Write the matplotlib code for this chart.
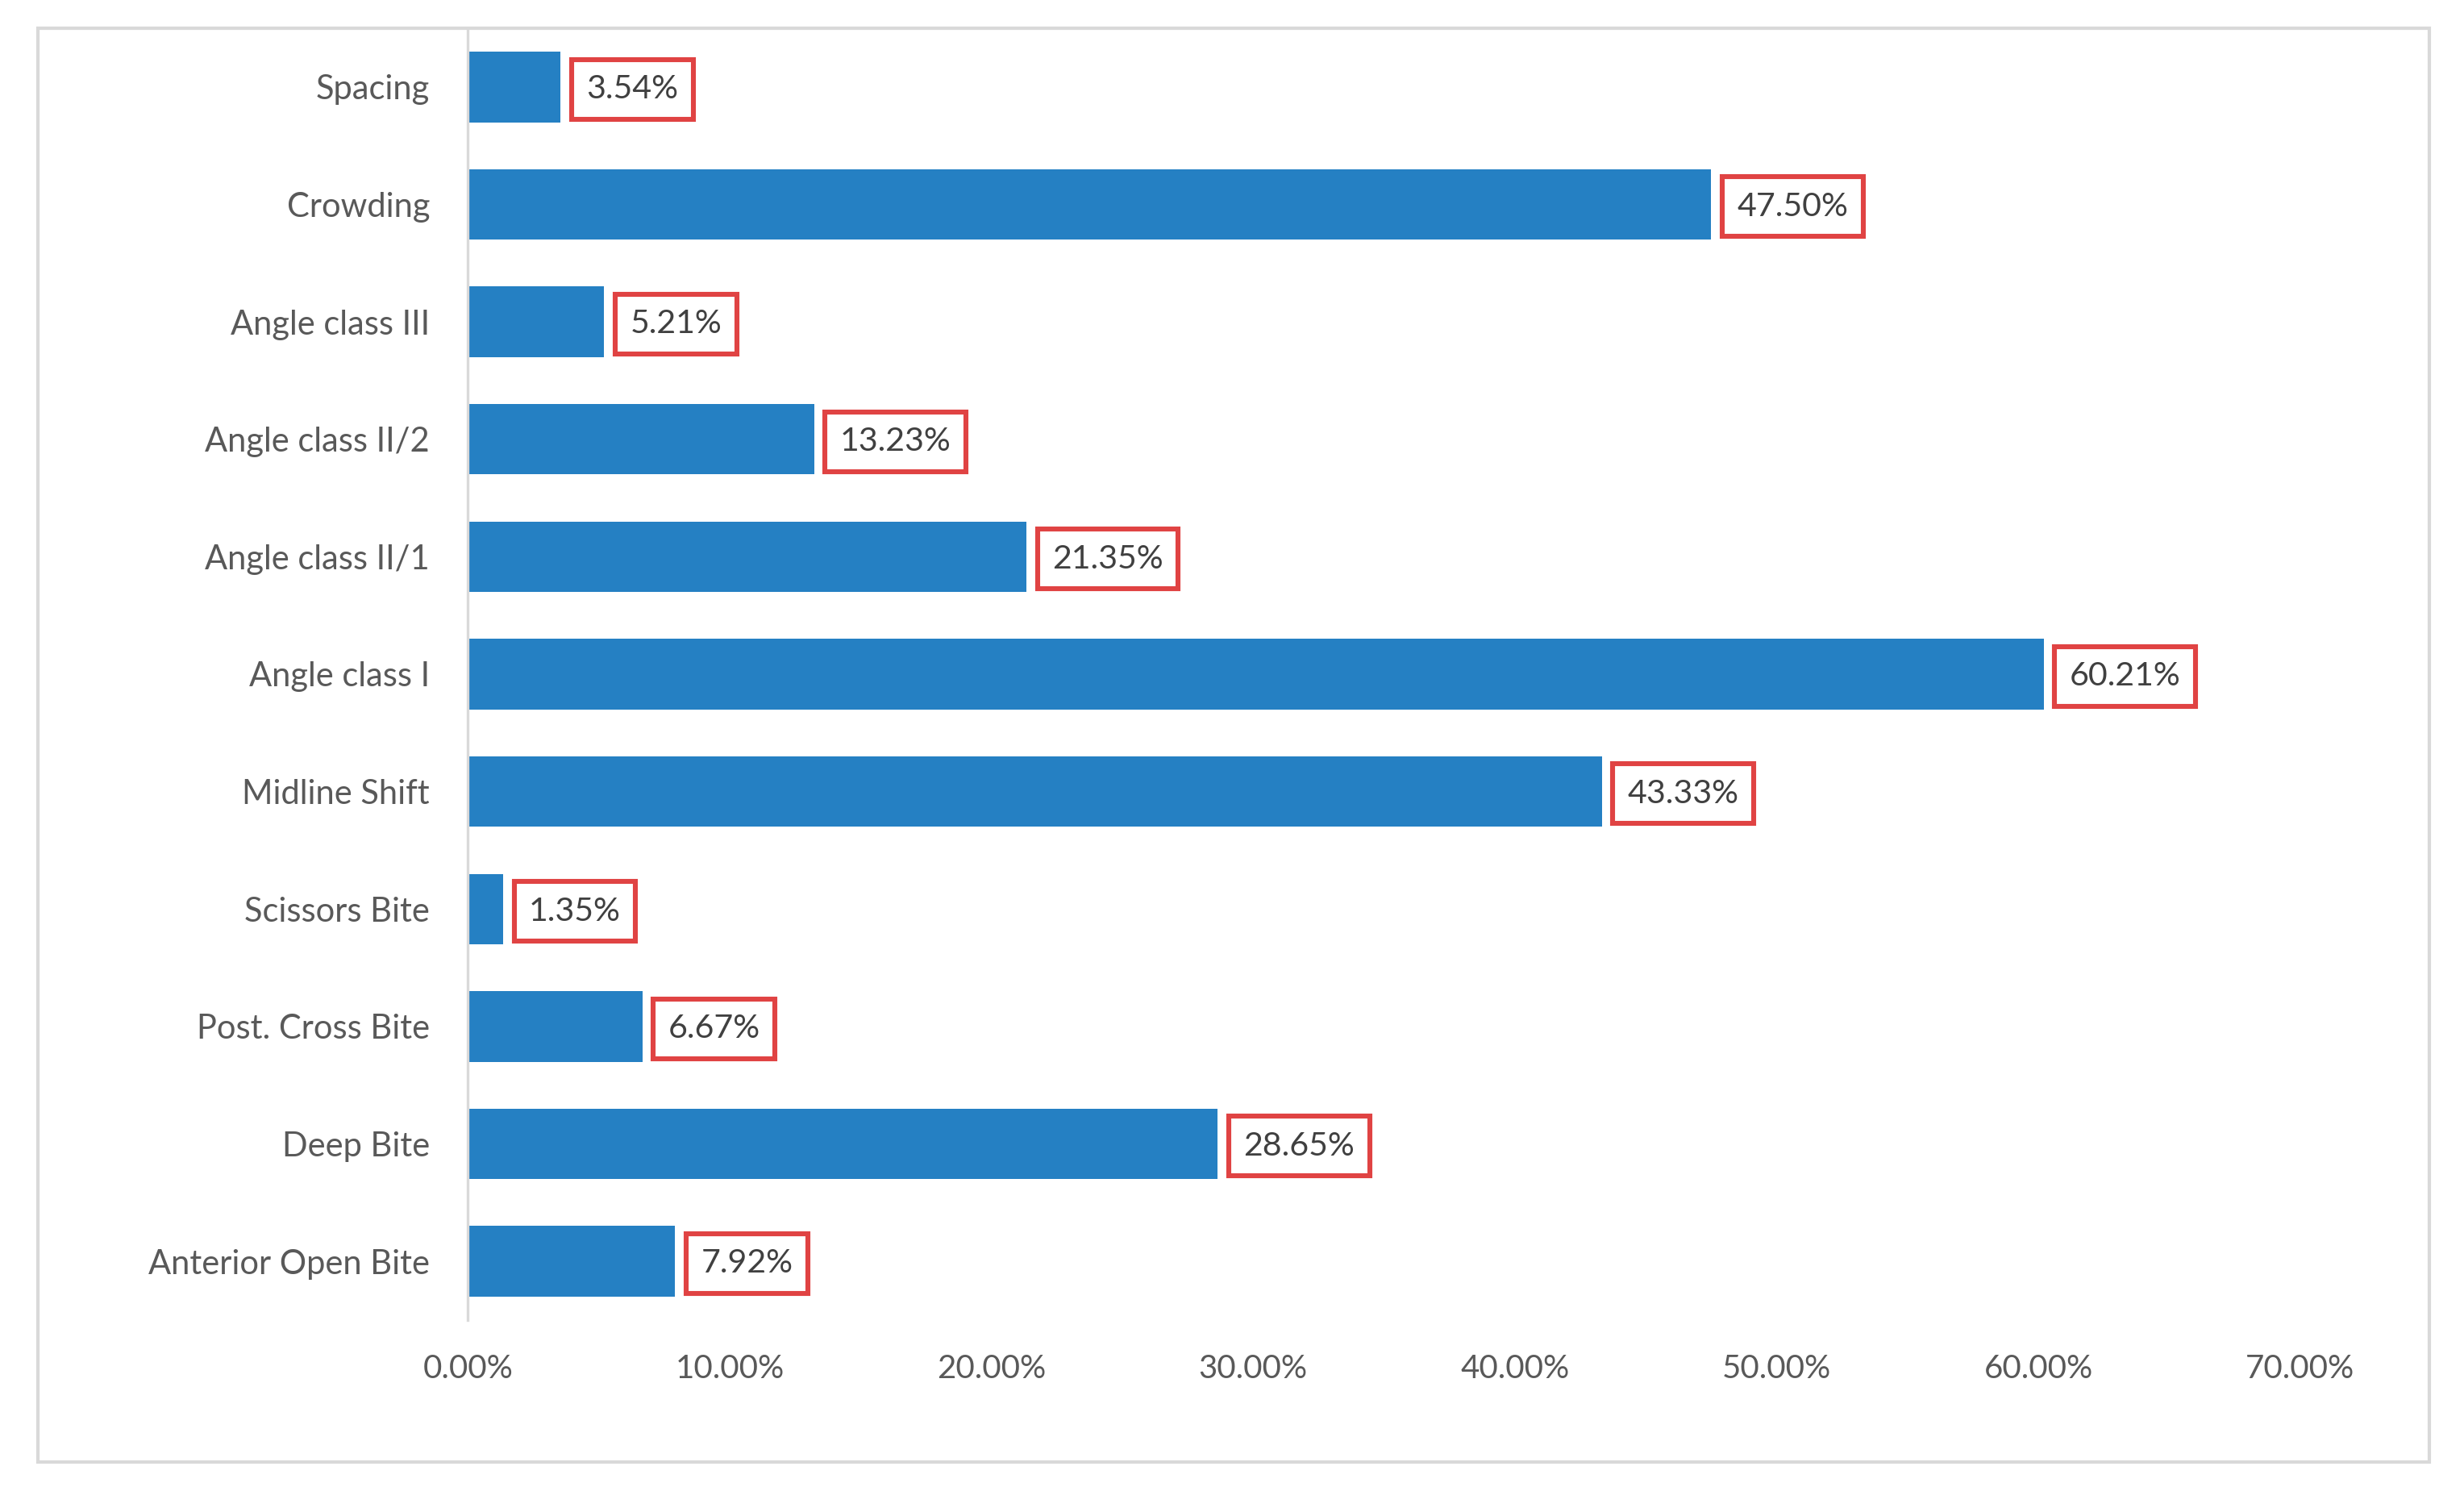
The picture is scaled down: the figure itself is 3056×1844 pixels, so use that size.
import matplotlib.pyplot as plt
from matplotlib.patches import Rectangle
from matplotlib.ticker import FuncFormatter

# Data (bottom to top)
categories = ['Anterior Open Bite', 'Deep Bite', 'Post. Cross Bite', 'Scissors Bite',
              'Midline Shift', 'Angle class I', 'Angle class II/1', 'Angle class II/2',
              'Angle class III', 'Crowding', 'Spacing']
values = [7.92, 28.65, 6.67, 1.35, 43.33, 60.21, 21.35, 13.23, 5.21, 47.50, 3.54]
x_ticks = [0, 10, 20, 30, 40, 50, 60, 70]

plt.rcParams['font.family'] = ['Lato', 'DejaVu Sans']

fig = plt.figure(figsize=(15.28, 9.22), dpi=200)
ax = fig.add_axes([0.1899, 0.1123, 0.9335 - 0.1899, 0.981 - 0.1123])

# outer chart frame
fig.patches.append(Rectangle((0.0153, 0.017), 0.986 - 0.0153, 0.981 - 0.017,
                             transform=fig.transFigure, fill=False,
                             edgecolor='#d9d9d9', linewidth=1.5, zorder=0))

ypos = range(len(categories))
ax.barh(ypos, values, height=0.6, color='#2580c3', zorder=2)

for y, v in zip(ypos, values):
    ax.annotate(f'{v:.2f}%', xy=(v, y), xytext=(11.5, -1), textcoords='offset points',
                ha='left', va='center', fontsize=14.8, color='#404040',
                bbox=dict(boxstyle='square,pad=0.45', facecolor='white',
                          edgecolor='#e04343', linewidth=2.2))

ax.set_xlim(0, 70)
ax.set_ylim(-0.5, len(categories) - 0.5)
ax.set_xticks(x_ticks)
ax.xaxis.set_major_formatter(FuncFormatter(lambda v, p: f'{v:.2f}%'))
ax.set_yticks(list(ypos))
ax.set_yticklabels(categories)

ax.tick_params(axis='x', length=0, pad=15, labelsize=14.5, labelcolor='#595959')
ax.tick_params(axis='y', length=0, pad=17, labelsize=15, labelcolor='#595959')

for s in ['top', 'right', 'bottom']:
    ax.spines[s].set_visible(False)
ax.spines['left'].set_color('#d9d9d9')
ax.spines['left'].set_linewidth(1.2)

fig.savefig('out.png', dpi=200)
